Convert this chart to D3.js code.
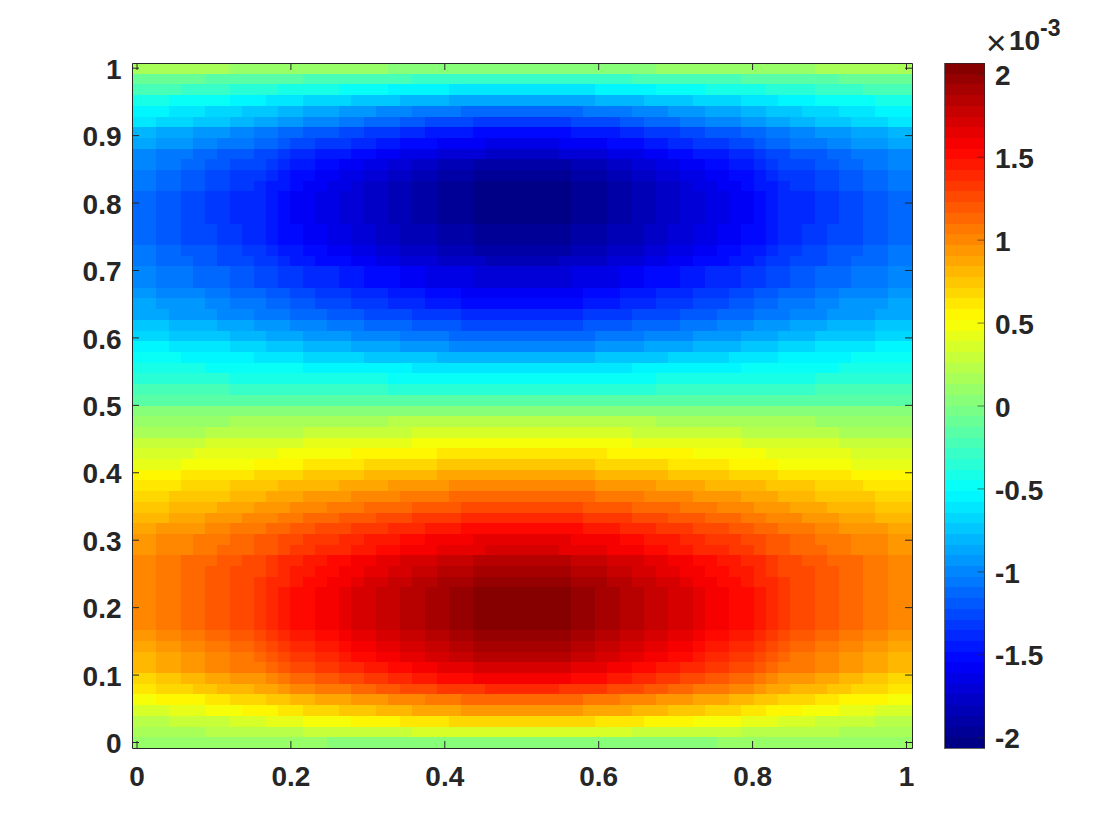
<!DOCTYPE html>
<html>
<head>
<meta charset="utf-8">
<script src="https://cdn.jsdelivr.net/npm/d3@7"></script>
<style>
  body { margin: 0; background: #fff; }
  text { font-family: "Liberation Sans", Arial, sans-serif; fill: #262626; }
</style>
</head>
<body>
<svg id="chart" width="1120" height="840"></svg>
<script>
const xTicks = [0, 0.2, 0.4, 0.6, 0.8, 1];
const yTicks = [0, 0.1, 0.2, 0.3, 0.4, 0.5, 0.6, 0.7, 0.8, 0.9, 1];
const barTicks = [-2, -1.5, -1, -0.5, 0, 0.5, 1, 1.5, 2];
const colorLimit = 2.065; // x 10^-3

// colorbar step (0-63) of every cell, top row first
const cellLevels = [
[34,34,34,34,34,34,34,34,33,33,33,33,33,33,33,33,33,33,33,33,33,32,32,32,32,32,32,32,32,32,32,32,32,32,32,32,32,32,32,32,32,32,32,33,33,33,33,33,33,33,33,33,33,33,33,33,34,34,34,34,34,34,34,34],
[30,30,30,30,30,30,29,29,29,29,29,29,29,29,28,28,28,28,28,28,28,28,28,27,27,27,27,27,27,27,27,27,27,27,27,27,27,27,27,27,27,28,28,28,28,28,28,28,28,28,29,29,29,29,29,29,29,29,30,30,30,30,30,30],
[28,28,28,28,27,27,27,27,26,26,26,26,25,25,25,25,25,24,24,24,24,23,23,23,23,23,22,22,22,22,22,22,22,22,22,22,22,22,23,23,23,23,23,24,24,24,24,25,25,25,25,25,26,26,26,26,27,27,27,27,28,28,28,28],
[25,25,25,24,24,24,24,24,23,23,23,22,22,22,21,21,21,21,20,20,20,20,19,19,19,19,18,18,18,18,18,18,18,18,18,18,18,18,19,19,19,19,20,20,20,20,21,21,21,21,22,22,22,23,23,23,24,24,24,24,24,25,25,25],
[23,23,23,22,22,22,21,21,21,20,20,20,19,19,18,18,18,17,17,17,16,16,16,15,15,15,15,14,14,14,14,14,14,14,14,14,14,15,15,15,15,16,16,16,17,17,17,18,18,18,19,19,20,20,20,21,21,21,22,22,22,23,23,23],
[22,22,21,21,21,20,20,20,19,19,18,18,17,17,16,16,16,15,15,14,14,14,13,13,12,12,12,12,11,11,11,11,11,11,11,11,12,12,12,12,13,13,14,14,14,15,15,16,16,16,17,17,18,18,19,19,20,20,20,21,21,21,22,22],
[19,19,18,18,18,17,17,17,16,16,15,15,14,14,13,13,13,12,12,11,11,11,10,10,9,9,9,9,8,8,8,8,8,8,8,8,9,9,9,9,10,10,11,11,11,12,12,13,13,13,14,14,15,15,16,16,17,17,17,18,18,18,19,19],
[18,18,17,17,17,16,16,15,15,15,14,14,13,12,12,11,11,11,10,10,9,9,8,8,8,7,7,7,7,6,6,6,6,6,6,7,7,7,7,8,8,8,9,9,10,10,11,11,11,12,12,13,14,14,15,15,15,16,16,17,17,17,18,18],
[16,16,15,15,15,14,14,13,13,13,12,12,11,10,10,9,9,9,8,8,7,7,6,6,6,5,5,5,5,4,4,4,4,4,4,5,5,5,5,6,6,6,7,7,8,8,9,9,9,10,10,11,12,12,13,13,13,14,14,15,15,15,16,16],
[16,16,15,15,14,14,13,13,12,12,12,11,10,9,9,8,8,7,7,6,6,5,5,4,4,3,3,3,2,2,2,2,2,2,2,2,3,3,3,4,4,5,5,6,6,7,7,8,8,9,9,10,11,12,12,12,13,13,14,14,15,15,16,16],
[15,15,14,14,13,13,12,12,11,11,11,10,9,8,8,7,7,6,6,5,5,4,4,3,3,2,2,2,1,1,1,1,1,1,1,1,2,2,2,3,3,4,4,5,5,6,6,7,7,8,8,9,10,11,11,11,12,12,13,13,14,14,15,15],
[15,15,14,14,13,13,12,12,11,11,10,9,9,8,7,7,6,6,5,4,4,3,3,2,2,1,1,1,0,0,0,0,0,0,0,0,1,1,1,2,2,3,3,4,4,5,6,6,7,7,8,9,9,10,11,11,12,12,13,13,14,14,15,15],
[14,14,13,13,12,12,11,11,10,10,10,9,8,7,7,6,6,5,5,4,4,3,3,2,2,1,1,1,0,0,0,0,0,0,0,0,1,1,1,2,2,3,3,4,4,5,5,6,6,7,7,8,9,10,10,10,11,11,12,12,13,13,14,14],
[14,14,13,13,12,12,11,11,10,10,10,9,8,7,7,6,6,5,5,4,4,3,3,2,2,1,1,1,0,0,0,0,0,0,0,0,1,1,1,2,2,3,3,4,4,5,5,6,6,7,7,8,9,10,10,10,11,11,12,12,13,13,14,14],
[14,14,13,13,12,12,11,11,10,10,10,9,8,7,7,6,6,5,5,4,4,3,3,2,2,1,1,1,0,0,0,0,0,0,0,0,1,1,1,2,2,3,3,4,4,5,5,6,6,7,7,8,9,10,10,10,11,11,12,12,13,13,14,14],
[14,14,13,13,12,12,12,11,11,10,10,9,8,8,7,7,6,6,5,5,4,4,3,3,3,2,2,2,1,1,1,1,1,1,1,1,2,2,2,3,3,3,4,4,5,5,6,6,7,7,8,8,9,10,10,11,11,12,12,12,13,13,14,14],
[14,14,13,13,12,12,12,11,11,10,10,9,8,8,7,7,6,6,5,5,4,4,3,3,3,2,2,2,1,1,1,1,1,1,1,1,2,2,2,3,3,3,4,4,5,5,6,6,7,7,8,8,9,10,10,11,11,12,12,12,13,13,14,14],
[15,15,14,14,13,13,13,12,12,11,11,10,9,9,8,8,7,7,6,6,5,5,4,4,4,3,3,3,2,2,2,2,2,2,2,2,3,3,3,4,4,4,5,5,6,6,7,7,8,8,9,9,10,11,11,12,12,13,13,13,14,14,15,15],
[15,15,14,14,14,13,13,12,12,12,11,11,10,9,9,8,8,8,7,7,6,6,5,5,5,4,4,4,4,3,3,3,3,3,3,4,4,4,4,5,5,5,6,6,7,7,8,8,8,9,9,10,11,11,12,12,12,13,13,14,14,14,15,15],
[16,16,15,15,15,14,14,14,13,13,12,12,11,11,10,10,10,9,9,8,8,8,7,7,6,6,6,6,5,5,5,5,5,5,5,5,6,6,6,6,7,7,8,8,8,9,9,10,10,10,11,11,12,12,13,13,14,14,14,15,15,15,16,16],
[16,16,15,15,15,14,14,14,13,13,12,12,11,11,10,10,10,9,9,8,8,8,7,7,6,6,6,6,5,5,5,5,5,5,5,5,6,6,6,6,7,7,8,8,8,9,9,10,10,10,11,11,12,12,13,13,14,14,14,15,15,15,16,16],
[17,17,16,16,16,16,15,15,14,14,14,13,13,12,12,11,11,11,10,10,10,9,9,9,8,8,8,7,7,7,7,7,7,7,7,7,7,8,8,8,9,9,9,10,10,10,11,11,11,12,12,13,13,14,14,14,15,15,16,16,16,16,17,17],
[18,18,17,17,17,17,16,16,15,15,15,14,14,13,13,12,12,12,11,11,11,10,10,10,9,9,9,8,8,8,8,8,8,8,8,8,8,9,9,9,10,10,10,11,11,11,12,12,12,13,13,14,14,15,15,15,16,16,17,17,17,17,18,18],
[18,18,18,17,17,17,17,16,16,16,15,15,15,14,14,14,13,13,13,12,12,12,12,11,11,11,11,10,10,10,10,10,10,10,10,10,10,11,11,11,11,12,12,12,12,13,13,13,14,14,14,15,15,15,16,16,16,17,17,17,17,18,18,18],
[20,20,20,19,19,19,19,18,18,18,17,17,17,16,16,16,15,15,15,14,14,14,14,13,13,13,13,12,12,12,12,12,12,12,12,12,12,13,13,13,13,14,14,14,14,15,15,15,16,16,16,17,17,17,18,18,18,19,19,19,19,20,20,20],
[21,21,21,20,20,20,20,20,19,19,19,18,18,18,17,17,17,17,16,16,16,16,15,15,15,15,14,14,14,14,14,14,14,14,14,14,14,14,15,15,15,15,16,16,16,16,17,17,17,17,18,18,18,19,19,19,20,20,20,20,20,21,21,21],
[23,23,23,22,22,22,22,22,21,21,21,20,20,20,19,19,19,19,18,18,18,18,17,17,17,17,16,16,16,16,16,16,16,16,16,16,16,16,17,17,17,17,18,18,18,18,19,19,19,19,20,20,20,21,21,21,22,22,22,22,22,23,23,23],
[24,24,24,24,23,23,23,23,23,23,22,22,22,22,21,21,21,21,21,20,20,20,20,20,20,19,19,19,19,19,19,19,19,19,19,19,19,19,20,20,20,20,20,20,21,21,21,21,21,22,22,22,22,23,23,23,23,23,23,24,24,24,24,24],
[25,25,25,25,25,25,24,24,24,24,24,24,24,24,23,23,23,23,23,23,23,23,23,22,22,22,22,22,22,22,22,22,22,22,22,22,22,22,22,22,22,23,23,23,23,23,23,23,23,23,24,24,24,24,24,24,24,24,25,25,25,25,25,25],
[26,26,26,26,26,26,26,26,25,25,25,25,25,25,25,25,25,25,25,25,25,24,24,24,24,24,24,24,24,24,24,24,24,24,24,24,24,24,24,24,24,24,24,25,25,25,25,25,25,25,25,25,25,25,25,25,26,26,26,26,26,26,26,26],
[28,28,28,28,28,28,28,28,27,27,27,27,27,27,27,27,27,27,27,27,27,26,26,26,26,26,26,26,26,26,26,26,26,26,26,26,26,26,26,26,26,26,26,27,27,27,27,27,27,27,27,27,27,27,27,27,28,28,28,28,28,28,28,28],
[29,29,29,29,29,29,29,29,29,29,29,29,29,29,29,29,29,29,29,29,29,29,29,29,29,29,29,29,29,29,29,29,29,29,29,29,29,29,29,29,29,29,29,29,29,29,29,29,29,29,29,29,29,29,29,29,29,29,29,29,29,29,29,29],
[32,32,32,32,32,32,32,32,32,32,32,32,32,32,32,32,32,32,32,32,32,32,32,32,32,32,32,32,32,32,32,32,32,32,32,32,32,32,32,32,32,32,32,32,32,32,32,32,32,32,32,32,32,32,32,32,32,32,32,32,32,32,32,32],
[33,33,33,33,33,33,33,33,34,34,34,34,34,34,34,34,34,34,34,34,34,35,35,35,35,35,35,35,35,35,35,35,35,35,35,35,35,35,35,35,35,35,35,34,34,34,34,34,34,34,34,34,34,34,34,34,33,33,33,33,33,33,33,33],
[34,34,34,34,34,34,35,35,35,35,35,35,35,35,36,36,36,36,36,36,36,36,36,37,37,37,37,37,37,37,37,37,37,37,37,37,37,37,37,37,37,36,36,36,36,36,36,36,36,36,35,35,35,35,35,35,35,35,34,34,34,34,34,34],
[36,36,36,36,36,36,37,37,37,37,37,37,37,37,38,38,38,38,38,38,38,38,38,39,39,39,39,39,39,39,39,39,39,39,39,39,39,39,39,39,39,38,38,38,38,38,38,38,38,38,37,37,37,37,37,37,37,37,36,36,36,36,36,36],
[37,37,37,37,37,38,38,38,38,38,38,38,39,39,39,39,39,39,40,40,40,40,40,40,40,41,41,41,41,41,41,41,41,41,41,41,41,41,41,40,40,40,40,40,40,40,39,39,39,39,39,39,38,38,38,38,38,38,38,37,37,37,37,37],
[38,38,38,38,39,39,39,39,39,39,40,40,40,40,41,41,41,41,41,42,42,42,42,42,42,43,43,43,43,43,43,43,43,43,43,43,43,43,42,42,42,42,42,42,41,41,41,41,41,40,40,40,40,39,39,39,39,39,39,38,38,38,38,38],
[40,40,40,40,41,41,41,41,41,41,42,42,42,42,43,43,43,43,43,44,44,44,44,44,44,45,45,45,45,45,45,45,45,45,45,45,45,45,44,44,44,44,44,44,43,43,43,43,43,42,42,42,42,41,41,41,41,41,41,40,40,40,40,40],
[41,41,41,41,42,42,42,42,43,43,43,43,44,44,44,44,44,45,45,45,45,46,46,46,46,46,47,47,47,47,47,47,47,47,47,47,47,47,46,46,46,46,46,45,45,45,45,44,44,44,44,44,43,43,43,43,42,42,42,42,41,41,41,41],
[42,42,42,43,43,43,43,43,44,44,44,45,45,45,46,46,46,46,47,47,47,47,48,48,48,48,49,49,49,49,49,49,49,49,49,49,49,49,48,48,48,48,47,47,47,47,46,46,46,46,45,45,45,44,44,44,43,43,43,43,43,42,42,42],
[43,43,43,44,44,44,44,45,45,45,46,46,46,47,47,47,48,48,48,49,49,49,49,50,50,50,50,51,51,51,51,51,51,51,51,51,51,50,50,50,50,49,49,49,49,48,48,48,47,47,47,46,46,46,45,45,45,44,44,44,44,43,43,43],
[44,44,44,45,45,45,46,46,46,47,47,47,48,48,49,49,49,50,50,50,51,51,51,52,52,52,52,53,53,53,53,53,53,53,53,53,53,52,52,52,52,51,51,51,50,50,50,49,49,49,48,48,47,47,47,46,46,46,45,45,45,44,44,44],
[45,45,46,46,46,46,47,47,48,48,48,49,49,50,50,51,51,51,52,52,52,53,53,53,54,54,54,55,55,55,55,55,55,55,55,55,55,54,54,54,53,53,53,52,52,52,51,51,51,50,50,49,49,48,48,48,47,47,46,46,46,46,45,45],
[46,46,47,47,47,48,48,48,49,49,50,50,51,51,52,52,52,53,53,54,54,54,55,55,56,56,56,56,57,57,57,57,57,57,57,57,56,56,56,56,55,55,54,54,54,53,53,52,52,52,51,51,50,50,49,49,48,48,48,47,47,47,46,46],
[46,46,47,47,47,48,48,49,49,49,50,50,51,52,52,53,53,53,54,54,55,55,56,56,56,57,57,57,57,58,58,58,58,58,58,57,57,57,57,56,56,56,55,55,54,54,53,53,53,52,52,51,50,50,49,49,49,48,48,47,47,47,46,46],
[47,47,48,48,49,49,49,50,50,51,51,52,53,53,54,54,55,55,56,56,57,57,58,58,58,59,59,59,60,60,60,60,60,60,60,60,59,59,59,58,58,58,57,57,56,56,55,55,54,54,53,53,52,51,51,50,50,49,49,49,48,48,47,47],
[47,47,48,48,49,49,50,50,51,51,51,52,53,54,54,55,55,56,56,57,57,58,58,59,59,60,60,60,61,61,61,61,61,61,61,61,60,60,60,59,59,58,58,57,57,56,56,55,55,54,54,53,52,51,51,51,50,50,49,49,48,48,47,47],
[47,47,48,48,49,49,50,50,51,51,52,53,53,54,55,55,56,56,57,58,58,59,59,60,60,61,61,61,62,62,62,62,62,62,62,62,61,61,61,60,60,59,59,58,58,57,56,56,55,55,54,53,53,52,51,51,50,50,49,49,48,48,47,47],
[47,47,48,48,49,49,50,50,51,51,52,53,54,55,55,56,56,57,58,58,59,59,60,60,61,61,62,62,63,63,63,63,63,63,63,63,62,62,61,61,60,60,59,59,58,58,57,56,56,55,55,54,53,52,51,51,50,50,49,49,48,48,47,47],
[47,47,48,48,49,49,50,50,51,51,52,53,54,55,55,56,56,57,58,58,59,59,60,60,61,61,62,62,63,63,63,63,63,63,63,63,62,62,61,61,60,60,59,59,58,58,57,56,56,55,55,54,53,52,51,51,50,50,49,49,48,48,47,47],
[47,47,48,48,49,49,50,50,51,51,52,53,54,55,55,56,56,57,58,58,59,59,60,60,61,61,62,62,63,63,63,63,63,63,63,63,62,62,61,61,60,60,59,59,58,58,57,56,56,55,55,54,53,52,51,51,50,50,49,49,48,48,47,47],
[47,47,48,48,49,49,50,50,51,51,52,53,54,55,55,56,56,57,58,58,59,59,60,60,61,61,62,62,63,63,63,63,63,63,63,63,62,62,61,61,60,60,59,59,58,58,57,56,56,55,55,54,53,52,51,51,50,50,49,49,48,48,47,47],
[46,46,47,47,48,48,49,49,50,50,51,52,53,54,54,55,55,56,57,57,58,58,59,59,60,60,61,61,62,62,62,62,62,62,62,62,61,61,60,60,59,59,58,58,57,57,56,55,55,54,54,53,52,51,50,50,49,49,48,48,47,47,46,46],
[45,45,46,46,47,47,48,48,49,49,50,51,52,53,53,54,54,55,56,56,57,57,58,58,59,59,60,60,61,61,61,61,61,61,61,61,60,60,59,59,58,58,57,57,56,56,55,54,54,53,53,52,51,50,49,49,48,48,47,47,46,46,45,45],
[44,44,45,45,46,46,47,47,48,48,49,50,51,52,52,53,53,54,55,55,56,56,57,57,58,58,59,59,60,60,60,60,60,60,60,60,59,59,58,58,57,57,56,56,55,55,54,53,53,52,52,51,50,49,48,48,47,47,46,46,45,45,44,44],
[44,44,45,45,46,46,47,47,48,48,48,49,50,51,51,52,52,53,53,54,54,55,55,56,56,57,57,57,58,58,58,58,58,58,58,58,57,57,57,56,56,55,55,54,54,53,53,52,52,51,51,50,49,48,48,48,47,47,46,46,45,45,44,44],
[42,42,43,43,44,44,45,45,46,46,46,47,48,49,49,50,50,51,51,52,52,53,53,54,54,55,55,55,56,56,56,56,56,56,56,56,55,55,55,54,54,53,53,52,52,51,51,50,50,49,49,48,47,46,46,46,45,45,44,44,43,43,42,42],
[41,41,42,42,42,43,43,44,44,44,45,45,46,47,47,48,48,48,49,49,50,50,51,51,51,52,52,52,52,53,53,53,53,53,53,52,52,52,52,51,51,51,50,50,49,49,48,48,48,47,47,46,45,45,44,44,44,43,43,42,42,42,41,41],
[39,39,40,40,40,40,41,41,42,42,42,43,43,44,44,45,45,45,46,46,46,47,47,47,48,48,48,49,49,49,49,49,49,49,49,49,49,48,48,48,47,47,47,46,46,46,45,45,45,44,44,43,43,42,42,42,41,41,40,40,40,40,39,39],
[37,37,37,38,38,38,39,39,39,40,40,40,41,41,42,42,42,43,43,43,44,44,44,45,45,45,45,46,46,46,46,46,46,46,46,46,46,45,45,45,45,44,44,44,43,43,43,42,42,42,41,41,40,40,40,39,39,39,38,38,38,37,37,37],
[35,35,35,36,36,36,36,36,37,37,37,38,38,38,39,39,39,39,40,40,40,40,41,41,41,41,42,42,42,42,42,42,42,42,42,42,42,42,41,41,41,41,40,40,40,40,39,39,39,39,38,38,38,37,37,37,36,36,36,36,36,35,35,35],
[34,34,34,34,34,34,35,35,35,35,35,35,35,35,36,36,36,36,36,36,36,36,36,37,37,37,37,37,37,37,37,37,37,37,37,37,37,37,37,37,37,36,36,36,36,36,36,36,36,36,35,35,35,35,35,35,35,35,34,34,34,34,34,34],
[33,33,33,33,33,33,33,33,33,33,33,33,33,33,33,33,32,32,32,32,32,32,32,32,32,32,32,32,32,32,32,32,32,32,32,32,32,32,32,32,32,32,32,32,32,32,32,32,33,33,33,33,33,33,33,33,33,33,33,33,33,33,33,33]
];

// matlab jet, 64 steps
function jetColor(i) {
  const t = (i + 0.5) / 64 * 4;
  const ch = v => Math.round(255 * Math.max(0, Math.min(1, v)));
  return `rgb(${ch(Math.min(t - 1.5, 4.5 - t))},${ch(Math.min(t - 0.5, 3.5 - t))},${ch(Math.min(t + 0.5, 2.5 - t))})`;
}

const levels = d3.range(64);
const levelValue = d3.scaleLinear().domain([0, 64]).range([-colorLimit, colorLimit]);
const color = d3.scaleQuantize().domain([-colorLimit, colorLimit]).range(levels.map(jetColor));

const svg = d3.select("#chart");
const width = 780;
const height = 685;
const darkLine = "#262626";

const xBand = d3.scaleBand().domain(d3.range(64)).range([0, width]);
const yBand = d3.scaleBand().domain(d3.range(64)).range([0, height]);
const xScale = d3.scaleLinear().domain([0, 1]).range([4.5, 774]);
const yScale = d3.scaleLinear().domain([0, 1]).range([679, 4.7]);

const plot = svg.append("g").attr("transform", "translate(132,63)");

const cells = cellLevels.flatMap((row, r) => row.map((level, c) => ({ r, c, value: levelValue(level + 0.5) })));

plot.selectAll("rect.cell")
  .data(cells)
  .enter()
  .append("rect")
  .attr("class", "cell")
  .attr("x", d => xBand(d.c))
  .attr("y", d => yBand(d.r))
  .attr("width", xBand.bandwidth())
  .attr("height", yBand.bandwidth())
  .attr("fill", d => color(d.value))
  .attr("shape-rendering", "crispEdges");

function styleAxis(g) {
  g.selectAll("path, line").attr("stroke", darkLine).attr("stroke-width", 1);
  g.selectAll("text")
    .attr("font-size", 28)
    .attr("font-weight", "bold")
    .attr("fill", "#262626");
  return g;
}

plot.append("g")
  .attr("transform", `translate(0,${height})`)
  .call(d3.axisBottom(xScale).tickValues(xTicks).tickSizeInner(-7).tickSizeOuter(0).tickPadding(18.5).tickFormat(d => String(d)))
  .call(g => g.select("path").attr("d", `M0.5,0.5H${width + 0.5}`))
  .call(styleAxis);

plot.append("g")
  .call(d3.axisTop(xScale).tickValues(xTicks).tickSizeInner(-7).tickSizeOuter(0).tickFormat(""))
  .call(g => g.select("path").attr("d", `M0.5,0.5H${width + 0.5}`))
  .call(styleAxis);

plot.append("g")
  .call(d3.axisLeft(yScale).tickValues(yTicks).tickSizeInner(-7).tickSizeOuter(0).tickPadding(10.5).tickFormat(d => String(d)))
  .call(g => g.select("path").attr("d", `M0.5,0.5V${height + 0.5}`))
  .call(styleAxis)
  .call(g => g.selectAll("text").attr("dy", "0.38em"));

plot.append("g")
  .attr("transform", `translate(${width},0)`)
  .call(d3.axisRight(yScale).tickValues(yTicks).tickSizeInner(-7).tickSizeOuter(0).tickFormat(""))
  .call(g => g.select("path").attr("d", `M0.5,0.5V${height + 0.5}`))
  .call(styleAxis);

// colorbar
const barWidth = 40;
const barBand = d3.scaleBand().domain(levels).range([height, 0]);
const barScale = d3.scaleLinear().domain([-colorLimit, colorLimit]).range([height, 0]);
const bar = svg.append("g").attr("transform", "translate(944.5,63)");

bar.selectAll("rect")
  .data(levels)
  .enter()
  .append("rect")
  .attr("x", 0)
  .attr("y", d => barBand(d))
  .attr("width", barWidth)
  .attr("height", barBand.bandwidth())
  .attr("fill", d => color(levelValue(d + 0.5)))
  .attr("shape-rendering", "crispEdges");

bar.append("rect")
  .attr("x", 0)
  .attr("y", 0.5)
  .attr("width", barWidth)
  .attr("height", height)
  .attr("fill", "none")
  .attr("stroke", darkLine)
  .attr("stroke-opacity", 0.7);

bar.append("g")
  .attr("transform", `translate(${barWidth},0)`)
  .call(d3.axisRight(barScale).tickValues(barTicks).tickSizeInner(-7).tickSizeOuter(0).tickPadding(10.5).tickFormat(d => String(d)))
  .call(g => g.select("path").remove())
  .call(styleAxis)
  .call(g => g.selectAll("line").attr("stroke-opacity", 0.6))
  .call(g => g.selectAll("text").attr("dy", "0.38em"));

// exponent above the colorbar
svg.append("text").attr("x", 986).attr("y", 55).attr("font-size", 35).text("\u00d7");
svg.append("text").attr("x", 1009).attr("y", 50).attr("font-size", 28).attr("font-weight", "bold").text("10");
svg.append("text").attr("x", 1040).attr("y", 36).attr("font-size", 23).attr("font-weight", "bold").text("-3");
</script>
</body>
</html>
